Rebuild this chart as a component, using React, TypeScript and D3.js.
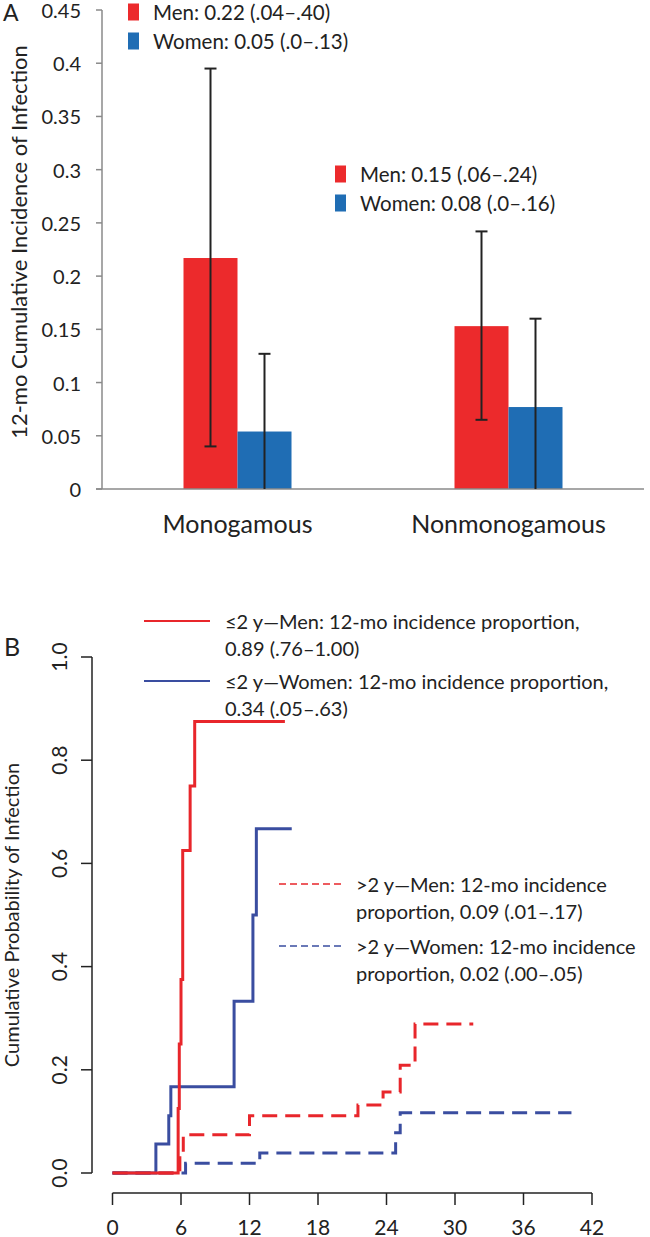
import React from "react";
import * as d3 from "d3";

// ---------- Panel A data ----------
const categories = ["Monogamous", "Nonmonogamous"];
const sexes = ["Men", "Women"];
const menIncidence = [0.217, 0.153];
const womenIncidence = [0.054, 0.077];
const menLower = [0.04, 0.065];
const menUpper = [0.395, 0.242];
const womenLower = [0, 0];
const womenUpper = [0.127, 0.16];
const yTicksA = [0, 0.05, 0.1, 0.15, 0.2, 0.25, 0.3, 0.35, 0.4, 0.45];
const yTickLabelsA = ["0", "0.05", "0.1", "0.15", "0.2", "0.25", "0.3", "0.35", "0.4", "0.45"];
const legendMono = ["Men: 0.22 (.04–.40)", "Women: 0.05 (.0–.13)"];
const legendNonmono = ["Men: 0.15 (.06–.24)", "Women: 0.08 (.0–.16)"];

// ---------- Panel B data ----------
const men2Times = [0, 5.75, 5.85, 6.0, 6.15, 6.8, 7.2, 15.1];
const men2Prob = [0, 0.125, 0.25, 0.375, 0.625, 0.75, 0.875, 0.875];
const women2Times = [0, 3.8, 4.93, 5.11, 10.65, 12.3, 12.6, 15.7];
const women2Prob = [0, 0.056, 0.111, 0.167, 0.333, 0.5, 0.667, 0.667];
const men3Times = [0, 5.9, 6.2, 12.0, 21.5, 23.7, 25.2, 26.5, 31.6];
const men3Prob = [0, 0.037, 0.074, 0.111, 0.132, 0.157, 0.209, 0.289, 0.289];
const women3Times = [0, 6.4, 12.9, 24.8, 25.2, 40.2];
const women3Prob = [0, 0.019, 0.039, 0.078, 0.117, 0.117];
const xTicksB = [0, 6, 12, 18, 24, 30, 36, 42];
const yTicksB = [0, 0.2, 0.4, 0.6, 0.8, 1.0];
const yTickLabelsB = ["0.0", "0.2", "0.4", "0.6", "0.8", "1.0"];
const legendB = [
  ["≤2 y—Men: 12-mo incidence proportion,", "0.89 (.76–1.00)"],
  ["≤2 y—Women: 12-mo incidence proportion,", "0.34 (.05–.63)"],
  [">2 y—Men: 12-mo incidence", "proportion, 0.09 (.01–.17)"],
  [">2 y—Women: 12-mo incidence", "proportion, 0.02 (.00–.05)"],
];

const RED_A = "#EC2A2C";
const BLUE_A = "#1F6DB4";
const RED_B = "#E8262B";
const BLUE_B = "#3A4DA0";
const FONT = "Lato, 'Open Sans', sans-serif";

export default function App() {
  // Panel A scales
  const yA = d3.scaleLinear().domain([0, 0.45]).range([489, 10]);
  const xA = d3.scaleBand<string>().domain(categories).range([102, 644]);
  const xSex = d3.scaleBand<string>().domain(sexes).range([0, 108]);
  const aCenter = (c: string) => (xA(c) as number) + xA.bandwidth() / 2;

  const barsA: { x: number; w: number; v: number; lo: number; hi: number; color: string }[] = [];
  categories.forEach((c, i) => {
    const left = aCenter(c) - 54;
    barsA.push({ x: left + (xSex("Men") as number), w: xSex.bandwidth(), v: menIncidence[i], lo: menLower[i], hi: menUpper[i], color: RED_A });
    barsA.push({ x: left + (xSex("Women") as number), w: xSex.bandwidth(), v: womenIncidence[i], lo: womenLower[i], hi: womenUpper[i], color: BLUE_A });
  });

  // Panel B scales
  const xB = d3.scaleLinear().domain([0, 42]).range([112.5, 592]);
  const yB = d3.scaleLinear().domain([0, 1]).range([1173, 657]);
  const line = d3
    .line<[number, number]>()
    .x((d) => xB(d[0]))
    .y((d) => yB(d[1]))
    .curve(d3.curveStepAfter);
  const zip = (t: number[], p: number[]) => t.map((v, i) => [v, p[i]] as [number, number]);

  const curves = [
    { d: line(zip(women3Times, women3Prob)), color: BLUE_B, dash: "15,8" },
    { d: line(zip(men3Times, men3Prob)), color: RED_B, dash: "15,8" },
    { d: line(zip(women2Times, women2Prob)), color: BLUE_B, dash: null },
    { d: line(zip(men2Times, men2Prob)), color: RED_B, dash: null },
  ];

  const legendBPos = [
    { lx1: 144, lx2: 210, tx: 225, y: 621, color: RED_B, dash: null },
    { lx1: 144, lx2: 210, tx: 225, y: 681, color: BLUE_B, dash: null },
    { lx1: 279, lx2: 343, tx: 356, y: 884, color: RED_B, dash: "7,4" },
    { lx1: 279, lx2: 343, tx: 356, y: 946, color: BLUE_B, dash: "7,4" },
  ];

  return (
    <svg
      width={650}
      height={1237}
      style={{ position: "absolute", left: 0, top: 0, background: "#fff" }}
      fontFamily={FONT}
    >
      <rect x={0} y={0} width={650} height={1237} fill="#fff" />
      {/* ---------------- Panel A ---------------- */}
      <text x={3} y={21} fontSize={23} fill="#222">A</text>
      <text
        transform={`translate(18,242) rotate(-90)`}
        textAnchor="middle"
        dominantBaseline="central"
        fontSize={22}
        fill="#222"
      >
        12-mo Cumulative Incidence of Infection
      </text>
      {/* y axis */}
      <line x1={102} x2={102} y1={yA(0.45)} y2={yA(0)} stroke="#8a8a8a" strokeWidth={1.5} />
      {yTicksA.map((t, i) => (
        <g key={"ya" + i}>
          <line x1={96} x2={102} y1={yA(t)} y2={yA(t)} stroke="#8a8a8a" strokeWidth={1.5} />
          <text x={81} y={yA(t)} textAnchor="end" dominantBaseline="central" fontSize={20} fill="#222">
            {yTickLabelsA[i]}
          </text>
        </g>
      ))}
      {/* bars */}
      {barsA.map((b, i) => (
        <rect key={"b" + i} x={b.x} y={yA(b.v)} width={b.w} height={yA(0) - yA(b.v)} fill={b.color} />
      ))}
      {/* x axis */}
      <line x1={96} x2={644} y1={yA(0)} y2={yA(0)} stroke="#8a8a8a" strokeWidth={1.5} />
      {categories.map((c) => (
        <text key={c} x={aCenter(c)} y={523} textAnchor="middle" dominantBaseline="central" fontSize={25} fill="#222">
          {c}
        </text>
      ))}
      {/* error bars */}
      {barsA.map((b, i) => {
        const cx = b.x + b.w / 2;
        return (
          <g key={"e" + i} stroke="#222" strokeWidth={2}>
            <line x1={cx} x2={cx} y1={yA(b.hi)} y2={yA(b.lo)} />
            <line x1={cx - 6} x2={cx + 6} y1={yA(b.hi)} y2={yA(b.hi)} />
            {b.lo > 0 && <line x1={cx - 6} x2={cx + 6} y1={yA(b.lo)} y2={yA(b.lo)} />}
          </g>
        );
      })}
      {/* legends A */}
      {[
        { sx: 128, tx: 153, ys: [12, 41], labels: legendMono },
        { sx: 335, tx: 360, ys: [174, 203], labels: legendNonmono },
      ].map((lg, j) => (
        <g key={"lga" + j}>
          {lg.labels.map((l, k) => (
            <g key={k}>
              <rect x={lg.sx} y={lg.ys[k] - 8.5} width={11} height={17} fill={k === 0 ? RED_A : BLUE_A} />
              <text x={lg.tx} y={lg.ys[k]} dominantBaseline="central" fontSize={20.5} fill="#222">
                {l}
              </text>
            </g>
          ))}
        </g>
      ))}

      {/* ---------------- Panel B ---------------- */}
      <text x={4} y={656} fontSize={25} fill="#222">B</text>
      <text
        transform={`translate(11,915) rotate(-90)`}
        textAnchor="middle"
        dominantBaseline="central"
        fontSize={20}
        fill="#222"
      >
        Cumulative Probability of Infection
      </text>
      {/* y axis */}
      <line x1={92} x2={92} y1={yB(1)} y2={yB(0)} stroke="#222" strokeWidth={1.5} />
      {yTicksB.map((t, i) => (
        <g key={"yb" + i}>
          <line x1={81} x2={92} y1={yB(t)} y2={yB(t)} stroke="#222" strokeWidth={1.5} />
          <text
            transform={`translate(58,${yB(t)}) rotate(-90)`}
            textAnchor="middle"
            dominantBaseline="central"
            fontSize={21}
            fill="#222"
          >
            {yTickLabelsB[i]}
          </text>
        </g>
      ))}
      {/* x axis */}
      <line x1={xB(0)} x2={xB(42)} y1={1193} y2={1193} stroke="#222" strokeWidth={1.5} />
      {xTicksB.map((t) => (
        <g key={"xb" + t}>
          <line x1={xB(t)} x2={xB(t)} y1={1193} y2={1205} stroke="#222" strokeWidth={1.5} />
          <text x={xB(t)} y={1226} textAnchor="middle" dominantBaseline="central" fontSize={21} fill="#222">
            {t}
          </text>
        </g>
      ))}
      {/* curves */}
      {curves.map((c, i) => (
        <path
          key={"c" + i}
          d={c.d as string}
          fill="none"
          stroke={c.color}
          strokeWidth={3}
          strokeDasharray={c.dash ?? undefined}
        />
      ))}
      {/* legend B */}
      {legendB.map((lines, i) => {
        const p = legendBPos[i];
        return (
          <g key={"lgb" + i}>
            <line
              x1={p.lx1}
              x2={p.lx2}
              y1={p.y}
              y2={p.y}
              stroke={p.color}
              strokeWidth={p.dash ? 1.6 : 2}
              strokeDasharray={p.dash ?? undefined}
            />
            {lines.map((l, k) => (
              <text key={k} x={p.tx} y={p.y + k * 26.5} dominantBaseline="central" fontSize={20} fill="#222">
                {l}
              </text>
            ))}
          </g>
        );
      })}
    </svg>
  );
}
